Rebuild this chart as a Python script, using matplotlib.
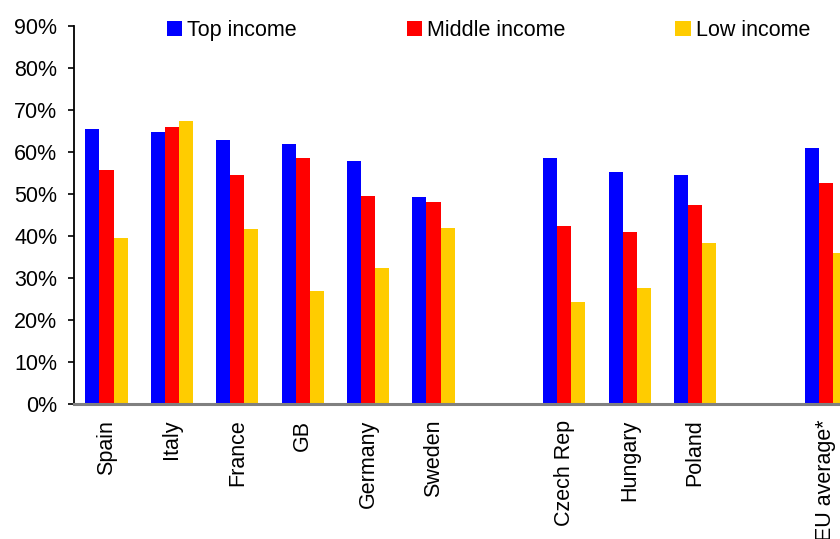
import matplotlib
matplotlib.use("Agg")
import matplotlib.pyplot as plt
from matplotlib.ticker import PercentFormatter
import numpy as np

plt.rcParams['font.family'] = ['Liberation Sans', 'DejaVu Sans']

# Data (percent)
groups = [
    ["Spain", "Italy", "France", "GB", "Germany", "Sweden"],
    ["Czech Rep", "Hungary", "Poland"],
    ["EU average*"],
]
top_income = [65.4, 64.7, 62.8, 61.8, 57.8, 49.2, 58.5, 55.2, 54.4, 60.9]
middle_income = [55.6, 65.9, 54.4, 58.5, 49.5, 48.0, 42.3, 40.9, 47.3, 52.5]
low_income = [39.5, 67.3, 41.6, 26.9, 32.3, 41.8, 24.2, 27.5, 38.3, 35.8]
series_names = ["Top income", "Middle income", "Low income"]
colors = ["#0000FF", "#FF0000", "#FFCC00"]
yticks = [0, 10, 20, 30, 40, 50, 60, 70, 80, 90]

# positions: one empty slot between groups
categories = []
positions = []
slot = 0
for g in groups:
    for c in g:
        categories.append(c)
        positions.append(slot)
        slot += 1
    slot += 1
positions = np.array(positions, dtype=float)

fig = plt.figure(figsize=(8.4, 5.39), dpi=100)
ax = fig.add_axes([74 / 840, 1 - 403.7 / 539, 1 - 74 / 840, (403.7 - 25.7) / 539])

w = 0.215
handles = []
for i, (vals, name, col) in enumerate(zip([top_income, middle_income, low_income], series_names, colors)):
    h = ax.bar(positions + (i - 1) * w, vals, width=w, color=col, label=name, linewidth=0, zorder=2)
    handles.append(h)

ax.set_ylim(0, 90)
ax.set_xlim(-0.497, 11.215)
ax.set_yticks(yticks)
ax.yaxis.set_major_formatter(PercentFormatter(decimals=0))
ax.set_xticks(positions)
ax.set_xticklabels(categories, rotation=90, ha='center', va='top')

ax.spines['top'].set_visible(False)
ax.spines['right'].set_visible(False)
ax.spines['left'].set_linewidth(1.3)
ax.spines['left'].set_color('black')
ax.spines['bottom'].set_linewidth(2.2)
ax.spines['bottom'].set_color('#808080')
ax.spines['bottom'].set_zorder(3)

ax.tick_params(axis='y', direction='out', length=4.5, width=1.2, pad=7.5, labelsize=15.5)
ax.tick_params(axis='x', length=0, pad=11.5, labelsize=15.5)

leg = fig.legend(handles=handles, labels=series_names, ncol=3, frameon=False,
                 loc='center left', bbox_to_anchor=(167 / 840, 1 - 30.5 / 539),
                 fontsize=15.5, handlelength=0.7, handleheight=0.7,
                 handletextpad=0.23, columnspacing=5.12, borderpad=0, borderaxespad=0)

fig.savefig("out.png", dpi=100)
